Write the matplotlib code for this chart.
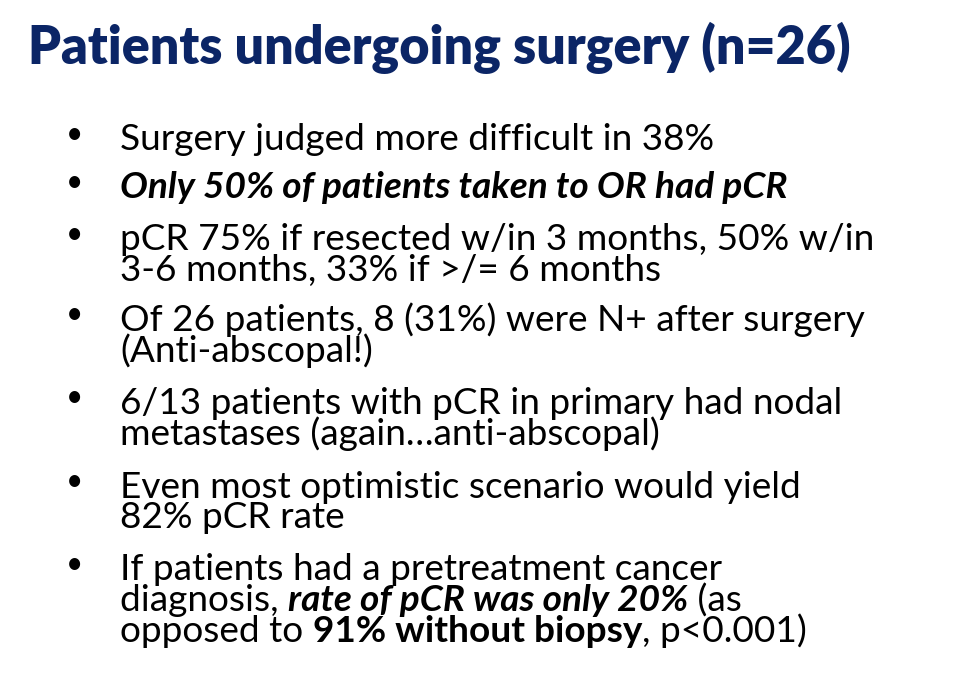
import matplotlib
matplotlib.use("Agg")
import matplotlib.pyplot as plt

title = "Patients undergoing surgery (n=26)"
# each bullet: list of lines, each line a list of (text, style) runs
bullets = [
    [[("Surgery judged more difficult in 38%", "n")]],
    [[("Only 50% of patients taken to OR had pCR", "bi")]],
    [[("pCR 75% if resected w/in 3 months, 50% w/in", "n")],
     [("3-6 months, 33% if >/= 6 months", "n")]],
    [[("Of 26 patients, 8 (31%) were N+ after surgery", "n")],
     [("(Anti-abscopal!)", "n")]],
    [[("6/13 patients with pCR in primary had nodal", "n")],
     [("metastases (again\u2026anti-abscopal)", "n")]],
    [[("Even most optimistic scenario would yield", "n")],
     [("82% pCR rate", "n")]],
    [[("If patients had a pretreatment cancer", "n")],
     [("diagnosis, ", "n"), ("rate of pCR was only 20%", "bi"), (" (as", "n")],
     [("opposed to ", "n"), ("91% without biopsy", "b"), (", p<0.001)", "n")]],
]
bullet_y = [140, 188, 240, 320, 403, 487, 570]

W, H = 958, 674
fig = plt.figure(figsize=(W / 100, H / 100), dpi=100)
fig.patch.set_facecolor("white")
ax = fig.add_axes([0, 0, 1, 1])
ax.set_xlim(0, W)
ax.set_ylim(H, 0)
ax.axis("off")
fig.canvas.draw()
r = fig.canvas.get_renderer()
FONT = "Lato"


def px_width(t):
    bb = t.get_window_extent(renderer=r)
    return bb.width


# title, scaled to span the reference width
t = ax.text(28, 48, title, fontsize=30, fontweight="heavy", color="#0B2566",
            family=FONT, va="center", ha="left")
t.set_fontsize(30 * 822 / px_width(t))

# body font size from the first line width
probe = ax.text(0, 0, bullets[0][0][0][0], fontsize=22, family=FONT)
fs = 22 * 593 / px_width(probe)
probe.remove()

styles = {"n": ("normal", "normal"), "b": ("bold", "normal"),
          "i": ("normal", "italic"), "bi": ("bold", "italic")}

for item, y0 in zip(bullets, bullet_y):
    ax.text(75, y0 - 6, "\u2022", fontsize=fs * 0.8, family=FONT, va="center", ha="center")
    for k, line in enumerate(item):
        x = 120
        y = y0 + k * 30.5
        for txt, st in line:
            w, s = styles[st]
            tt = ax.text(x, y, txt, fontsize=fs, family=FONT, fontweight=w,
                         fontstyle=s, va="center", ha="left", color="black")
            x += px_width(tt)

fig.savefig("out.png", dpi=100)
